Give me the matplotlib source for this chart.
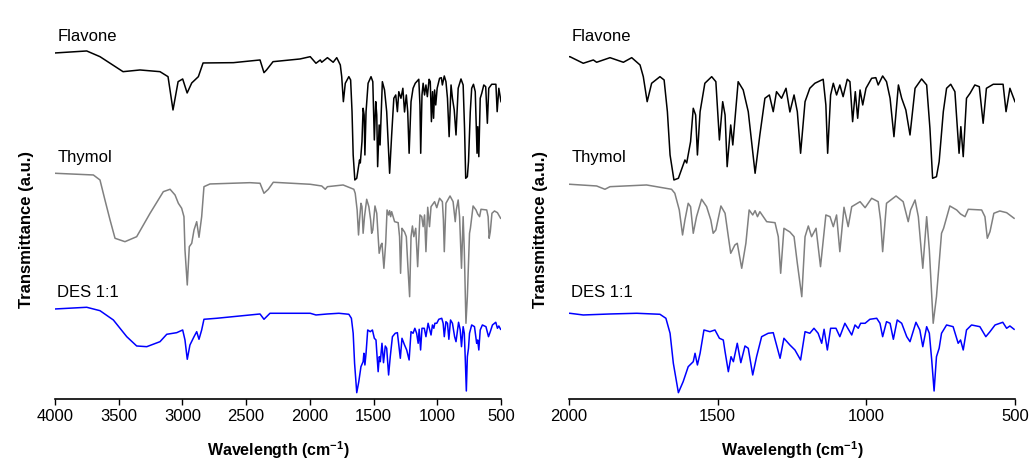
"""
FTIR spectra of flavone, thymol and the 1:1 DES.

Left panel shows the full 4000-500 cm-1 range, right panel zooms into
the fingerprint region (2000-500 cm-1). Same traces in both panels,
stacked with a vertical offset (arbitrary units).
"""

import matplotlib.pyplot as plt

plt.rcParams["font.family"] = ["Liberation Sans", "DejaVu Sans"]
plt.rcParams["mathtext.fontset"] = "custom"
plt.rcParams["mathtext.rm"] = "Liberation Sans"
plt.rcParams["mathtext.bf"] = "Liberation Sans:bold"


# --------------------------------------------------------------------------
# Data (stacked transmittance in a.u.)
# --------------------------------------------------------------------------

flavone_wn = [
    4000, 3751, 3647, 3466, 3333, 3176, 3113, 3074, 3034, 2998, 2963, 2927,
    2875, 2838, 2600, 2391, 2360, 2340, 2289, 2077, 1997, 1952, 1918, 1907,
    1862, 1817, 1789, 1761, 1750, 1737, 1722, 1694, 1680, 1669, 1660, 1647,
    1632, 1610, 1604, 1591, 1582, 1574, 1568, 1559, 1543, 1520, 1506, 1494,
    1483, 1475, 1468, 1456, 1449, 1431, 1414, 1397, 1374, 1358, 1341, 1326,
    1313, 1302, 1285, 1270, 1257, 1243, 1232, 1221, 1206, 1190, 1173, 1145,
    1136, 1130, 1120, 1111, 1100, 1089, 1078, 1064, 1055, 1046, 1037, 1029,
    1021, 1012, 1001, 982, 968, 960, 945, 932, 920, 907, 892, 881, 867, 853,
    836, 814, 797, 786, 777, 764, 755, 741, 730, 716, 702, 688, 682, 674,
    663, 651, 635, 620, 607, 596, 573, 540, 530, 517, 500,
]
flavone_t = [
    346, 348, 342.3, 327.3, 329, 327.3, 322.3, 289, 317.3, 320, 306, 316,
    322.3, 336, 336.3, 339, 326.3, 329, 337.3, 340, 342.3, 335.7, 339, 336.7,
    341.3, 336.7, 341.3, 334, 322.3, 297.3, 315.7, 322.3, 319, 287.3, 244, 219,
    220.7, 239, 236, 257.3, 290.7, 284, 244, 287.3, 315.7, 322.3, 317.3, 259,
    297.3, 284, 232.3, 274, 254, 317.3, 309, 287.3, 225.7, 264, 300.7, 304,
    287.3, 307.3, 300.7, 310.7, 287, 304, 287.3, 245.7, 297.3, 310.7, 315.7, 319.7,
    294, 245.7, 304, 315.7, 304, 314, 302.3, 319.7, 317.3, 277.3, 307.3, 280.7,
    309, 294, 310.7, 320.7, 321.3, 314, 323, 317.3, 300.7, 262.3, 314, 300.7, 289, 264,
    310.7, 320, 314, 270.7, 220.7, 222.3, 237.3, 287.3, 310.7, 314.7, 307.3, 245.7, 272.3, 242.3,
    300.7, 305.7, 314, 312.3, 275.7, 310.7, 314.7, 314.7, 287.3, 310.7, 297.3,
]

thymol_wn = [
    4000, 3699, 3647, 3608, 3568, 3529, 3451, 3359, 3254, 3150, 3097, 3058,
    3032, 3006, 2988, 2980, 2962, 2946, 2927, 2909, 2888, 2870, 2849, 2831,
    2784, 2470, 2391, 2360, 2326, 2287, 1997, 1907, 1879, 1862, 1739, 1655,
    1644, 1629, 1618, 1610, 1599, 1591, 1582, 1571, 1554, 1537, 1523, 1515,
    1506, 1489, 1475, 1464, 1456, 1442, 1434, 1419, 1405, 1394, 1382, 1374,
    1366, 1358, 1335, 1307, 1296, 1288, 1277, 1268, 1257, 1243, 1232, 1217,
    1206, 1195, 1184, 1169, 1154, 1136, 1122, 1111, 1100, 1089, 1075, 1061,
    1049, 1021, 1004, 982, 960, 952, 945, 932, 900, 876, 859, 851, 836, 825,
    810, 797, 788, 775, 764, 747, 740, 719, 696, 683, 668, 657, 612, 601,
    593, 584, 571, 551, 528, 503,
]
thymol_t = [
    225.7, 224, 219, 199, 179, 160.7, 157.3, 162.3, 185.7, 207.3, 209.7, 204,
    195.7, 190.7, 182.3, 149, 114, 152.3, 155.7, 169, 177.3, 161.7, 182.3, 212.3,
    215, 216.3, 215.7, 205.7, 209.7, 216.7, 214.7, 213, 209.7, 212.3, 214, 209.7,
    205.7, 189, 164, 179, 195.7, 192.3, 165.7, 182.3, 199.7, 192.3, 179, 165.7,
    169, 193, 185.7, 162.3, 145.7, 154, 155.7, 130.7, 155.7, 189, 184, 188.3,
    182.3, 187.3, 177.3, 176.3, 162.3, 125.7, 170.7, 169, 167, 162.3, 135.7, 102.3,
    162.3, 173, 162.3, 170.7, 132.3, 184, 182.3, 172.3, 184, 147.3, 191.7, 172.3,
    192.3, 197.3, 191.3, 200.7, 197.3, 179, 147.3, 195.7, 203, 197.3, 177.3, 189, 199, 182.3,
    130.7, 182.3, 149, 75.7, 102.3, 165.7, 170.7, 193, 189, 185, 182.3, 189.7, 189, 182.3,
    160.7, 167.3, 185.7, 188, 186.3, 180.7,
]

des_wn = [
    4000, 3751, 3647, 3542, 3437, 3359, 3280, 3176, 3123, 3045, 2998, 2980,
    2962, 2941, 2909, 2888, 2870, 2849, 2831, 2731, 2391, 2360, 2313, 1997,
    1952, 1862, 1772, 1694, 1674, 1660, 1649, 1632, 1616, 1599, 1582, 1576,
    1568, 1559, 1546, 1526, 1509, 1494, 1481, 1475, 1464, 1455, 1447, 1434,
    1422, 1408, 1397, 1382, 1369, 1352, 1330, 1313, 1290, 1277, 1257, 1240,
    1221, 1206, 1190, 1176, 1162, 1150, 1142, 1131, 1120, 1102, 1089, 1072,
    1049, 1038, 1027, 1019, 1004, 988, 965, 954, 945, 932, 920, 909, 896,
    881, 864, 853, 833, 820, 810, 797, 788, 780, 772, 764, 755, 747, 730,
    708, 691, 683, 674, 663, 646, 618, 598, 584, 567, 541, 528, 517, 503,
]
des_t = [
    90, 91.7, 88.3, 79, 62.3, 53, 52.3, 57.3, 64.7, 66.3, 69, 59,
    39.7, 54, 62.3, 67.3, 59.7, 69, 79.7, 80.7, 85, 79.7, 85.7, 85.7,
    84, 85, 85.7, 84.7, 80.7, 65.7, 35.7, 6.3, 17.3, 32.3, 37.3, 45.7,
    34, 45.7, 69, 67.3, 69, 60.7, 59, 47.3, 27.3, 42.3, 37.3, 55.7,
    36.3, 53, 50.7, 24, 42.3, 62.3, 65.7, 66.3, 40.7, 60.7, 54, 49,
    39, 67.3, 65.7, 70.7, 65.7, 55.7, 69.7, 49, 70.7, 70.7, 62.3, 75.7,
    64, 74, 70.7, 75.7, 75.7, 79.7, 80.7, 75.7, 62.3, 77.3, 75.7, 59.7, 79,
    75.7, 62.3, 57.3, 76.7, 69, 52.3, 72.3, 65.7, 39, 8, 42.3, 50.7, 65.7, 74,
    72.3, 55.7, 59, 49, 69, 74, 72.3, 62.3, 67.3, 74, 76.7, 70.7, 73, 69.7,
]

names = ["Flavone", "Thymol", "DES 1:1"]
colours = ["black", "#808080", "#0000ff"]


# --------------------------------------------------------------------------
# Plot
# --------------------------------------------------------------------------

def draw_panel(ax, xmax, ticks):
    traces = [(flavone_wn, flavone_t), (thymol_wn, thymol_t), (des_wn, des_t)]
    for (wn, t), name, col in zip(traces, names, colours):
        ax.plot(wn, t, color=col, linewidth=1.1, solid_joinstyle="round")
        # label sits just above where the trace starts
        ax.text(0.005, t[0] + 16, name, fontsize=12,
                transform=ax.get_yaxis_transform(), ha="left", va="center")

    ax.set_xlim(xmax, 500)
    ax.set_ylim(0, 379)
    ax.set_xticks(ticks)
    ax.set_yticks([])
    for side in ("left", "right", "top"):
        ax.spines[side].set_visible(False)
    ax.spines["bottom"].set_linewidth(1.2)
    ax.tick_params(axis="x", length=4, width=1.0, labelsize=12)
    ax.set_xlabel(r"Wavelength (cm$^{\mathbf{-1}}$)", fontsize=11.5,
                  fontweight="bold", labelpad=11)
    ax.set_ylabel("Transmittance (a.u.)", fontsize=12, fontweight="bold")
    ax.yaxis.set_label_coords(-0.047, 0.446)


fig = plt.figure(figsize=(10.30, 4.72), dpi=100)
ax_full = fig.add_axes([0.0534, 0.1547, 0.433, 0.803])
ax_zoom = fig.add_axes([0.5524, 0.1547, 0.433, 0.803])

draw_panel(ax_full, 4000, list(range(4000, 499, -500)))
draw_panel(ax_zoom, 2000, [2000, 1500, 1000, 500])

fig.savefig("out.png", dpi=100)
plt.close(fig)
